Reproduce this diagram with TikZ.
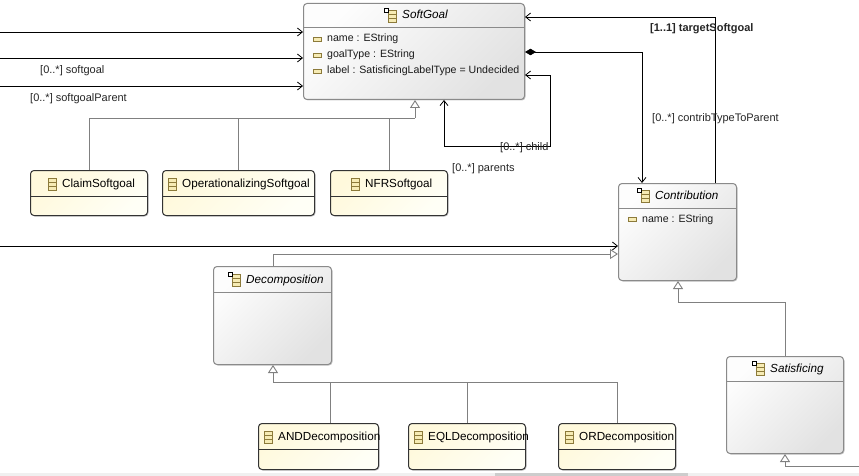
\documentclass[tikz,border=0pt]{standalone}
\usepackage{fontspec}
\setmainfont{Liberation Sans}
\usetikzlibrary{arrows.meta,shadows}
\definecolor{absborder}{HTML}{8A8A8A}
\definecolor{conborder}{HTML}{333333}
\definecolor{absTop}{HTML}{FDFDFD}
\definecolor{absBot}{HTML}{E2E2E2}
\definecolor{conTop}{HTML}{FFF9DC}
\definecolor{conBot}{HTML}{FFFFF6}
\definecolor{iconBorder}{HTML}{8C7A3A}
\definecolor{iconFill}{HTML}{F6EBB4}
\definecolor{genGray}{HTML}{808080}
\definecolor{scrollbg}{HTML}{F0F0F0}
\definecolor{scrollthumb}{HTML}{CDCDCD}
\newcommand\umlTitleFont{\fontsize{11.7}{13}\selectfont}
\newcommand\umlTextFont{\fontsize{11}{12}\selectfont}
\newcommand\umlAttrFont{\fontsize{10.6}{12}\selectfont}
\begin{document}
\begin{tikzpicture}[x=1pt,y=-1pt,
  boxbase/.style={line width=1pt, rounded corners=3.5pt, anchor=north west, inner sep=0pt,
    drop shadow={shadow xshift=1pt, shadow yshift=-1pt, opacity=0.3, fill=black!70}},
  absbox/.style={boxbase, draw=absborder, top color=absTop, bottom color=absBot, shading angle=45},
  conbox/.style={boxbase, draw=conborder, top color=conTop, bottom color=conBot, shading angle=45},
  abssep/.style={draw=absborder, line width=1pt},
  consep/.style={draw=conborder, line width=1pt},
  ttl/.style={anchor=base west, inner sep=0pt, font=\umlTitleFont},
  attr/.style={anchor=base west, inner sep=0pt, font=\umlAttrFont, text=black!90},
  lbl/.style={anchor=base west, inner sep=0pt, font=\umlTextFont, text=black!85},
  assoc/.style={draw=black, line width=0.8pt},
  barb/.style={-{Straight Barb[length=5pt,width=8pt]}},
  gen/.style={draw=genGray, line width=0.9pt},
  gentip/.style={-{Triangle[length=8pt,width=10pt,fill=white]}},
  clsicon/.pic={
    \draw[draw=iconBorder, fill=iconFill, line width=0.7pt] (-14,-9) rectangle (-6,3);
    \draw[draw=iconBorder, line width=0.6pt] (-14,-5) -- (-6,-5) (-14,-1) -- (-6,-1);},
  absicon/.pic={
    \draw[draw=iconBorder, fill=iconFill, line width=0.7pt] (-14,-9) rectangle (-6,3);
    \draw[draw=iconBorder, line width=0.6pt] (-14,-5) -- (-6,-5) (-14,-1) -- (-6,-1);
    \draw[draw=black, fill=white, line width=0.8pt] (-18,-11) rectangle (-14,-7);},
  attricon/.pic={
    \draw[draw=iconBorder, fill=iconFill, line width=0.7pt] (-14,-5) rectangle (-6,-1);}
]
\useasboundingbox (0,0) rectangle (859,476);
\fill[white] (0,0) rectangle (859,476);

% ---------- boxes ----------
\node[absbox, minimum width=221pt, minimum height=96pt] (sg) at (303,3) {};
\node[absbox, minimum width=118pt, minimum height=97pt] (contrib) at (618,183) {};
\node[absbox, minimum width=118pt, minimum height=98pt] (decomp) at (213,266) {};
\node[absbox, minimum width=117pt, minimum height=97pt] (satis) at (726,356) {};
\node[conbox, minimum width=117pt, minimum height=45pt] (claim) at (30,170) {};
\node[conbox, minimum width=152pt, minimum height=45pt] (oper) at (162,170) {};
\node[conbox, minimum width=117pt, minimum height=45pt] (nfr) at (330,170) {};
\node[conbox, minimum width=120pt, minimum height=46pt] (andd) at (258,423) {};
\node[conbox, minimum width=117pt, minimum height=46pt] (eql) at (408,423) {};
\node[conbox, minimum width=117pt, minimum height=46pt] (ord) at (558,423) {};

% separators
\draw[abssep] ([yshift=-25pt]sg.north west) -- ([yshift=-25pt]sg.north east);
\draw[abssep] ([yshift=-25pt]contrib.north west) -- ([yshift=-25pt]contrib.north east);
\draw[abssep] ([yshift=-26pt]decomp.north west) -- ([yshift=-26pt]decomp.north east);
\draw[abssep] ([yshift=-25pt]satis.north west) -- ([yshift=-25pt]satis.north east);
\foreach \b in {claim,oper,nfr,andd,eql,ord}
  \draw[consep] ([yshift=-26pt]\b.north west) -- ([yshift=-26pt]\b.north east);

% titles
\node[ttl, font=\umlTitleFont\itshape] (sgT) at (402,19) {SoftGoal};
\node[ttl, font=\umlTitleFont\itshape] (contribT) at (655,199) {Contribution};
\node[ttl, font=\umlTitleFont\itshape] (decompT) at (246,283) {Decomposition};
\node[ttl, font=\umlTitleFont\itshape] (satisT) at (770,372) {Satisficing};
\node[ttl] (claimT) at (62,187) {ClaimSoftgoal};
\node[ttl] (operT) at (182,187) {OperationalizingSoftgoal};
\node[ttl] (nfrT) at (365,187) {NFRSoftgoal};
\node[ttl] (anddT) at (278,440) {ANDDecomposition};
\node[ttl] (eqlT) at (428,440) {EQLDecomposition};
\node[ttl] (ordT) at (579,440) {ORDecomposition};
\foreach \t in {sgT,contribT,decompT,satisT}
  \pic at (\t.base west) {absicon};
\foreach \t in {claimT,operT,nfrT,anddT,eqlT,ordT}
  \pic at (\t.base west) {clsicon};

% attributes
\node[attr] (sgA1) at (327,42) {name : EString};
\node[attr] (sgA2) at (327,58) {goalType : EString};
\node[attr] (sgA3) at (327,74) {label : SatisficingLabelType = Undecided};
\node[attr] (contribA1) at (642,222) {name : EString};
\foreach \a in {sgA1,sgA2,sgA3,contribA1}
  \pic at (\a.base west) {attricon};

% ---------- associations ----------
\coordinate (inA) at (0,32);
\coordinate (inB) at (0,58);
\coordinate (inC) at (0,86);
\coordinate (inD) at (0,246);
\draw[assoc, barb] (inA) -- (inA -| sg.west);
\draw[assoc, barb] (inB) -- (inB -| sg.west);
\draw[assoc, barb] (inC) -- (inC -| sg.west);
\draw[assoc, barb] (inD) -- (inD -| contrib.west);

\coordinate (tsX) at (715,17);
\draw[assoc, barb] (tsX |- contrib.north) -- (tsX) -- (tsX -| sg.east);

\coordinate (ctX) at (642,52);
\draw[assoc, {Diamond[length=11pt,width=6.5pt,fill=black]}-{Straight Barb[length=5pt,width=8pt]}]
  (ctX -| sg.east) -- (ctX) -- (ctX |- contrib.north);

\coordinate (lpA) at (550,75);
\coordinate (lpB) at (444,146);
\draw[assoc, {Straight Barb[length=5pt,width=8pt]}-{Straight Barb[length=5pt,width=8pt]}]
  (lpA -| sg.east) -- (lpA) |- (lpB) -- (lpB |- sg.south);

% labels
\node[lbl] (lSoft) at (40,74) {[0..*] softgoal};
\node[lbl] (lSoftP) at (30,102) {[0..*] softgoalParent};
\node[lbl, font=\umlTextFont\bfseries] (lTarget) at (650,32) {[1..1] targetSoftgoal};
\node[lbl] (lContrib) at (652,122) {[0..*] contribTypeToParent};
\node[lbl] (lChild) at (500,150) {[0..*] child};
\node[lbl] (lParents) at (452,171) {[0..*] parents};

% ---------- generalizations ----------
\coordinate (gA) at (415,118);
\draw[gen] (claim.north) |- (gA);
\draw[gen] (oper.north) -- (oper.north |- gA);
\draw[gen] (nfr.north) -- (nfr.north |- gA);
\draw[gen, gentip] (gA) -- (gA |- sg.south);

\coordinate (dgA) at (273,254);
\draw[gen, gentip] (dgA |- decomp.north) -- (dgA) -- (dgA -| contrib.west);

\coordinate (sgA) at (678,302);
\draw[gen, gentip] (satis.north) |- (sgA) -- (sgA |- contrib.south);

\coordinate (sbA) at (859,466);
\draw[gen, gentip] (sbA) -| (satis.south);

\coordinate (ddA) at (273,382);
\coordinate (anddT2) at (330,382);
\draw[gen] (anddT2) -- (anddT2 |- andd.north);
\draw[gen] (eql.north) -- (eql.north |- ddA);
\draw[gen] (ord.north) |- (ddA);
\draw[gen, gentip] (ddA) -- (ddA |- decomp.south);

% scrollbar strip
\fill[scrollbg] (0,473) rectangle (859,476);
\fill[scrollthumb] (495,473) rectangle (688,476);
\end{tikzpicture}
\end{document}
